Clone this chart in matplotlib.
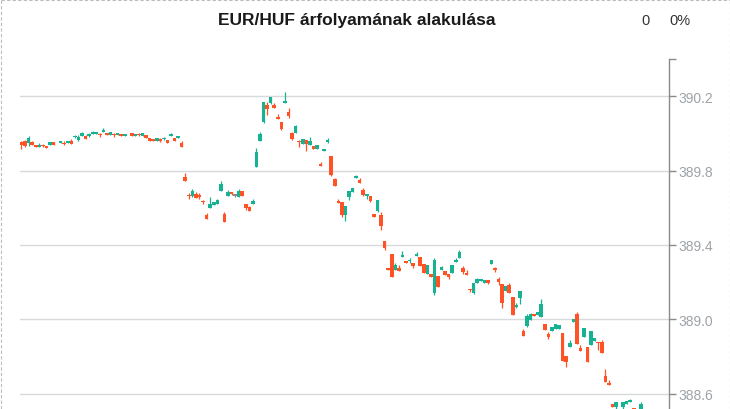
import numpy as np
import matplotlib
matplotlib.use('Agg')
import matplotlib.pyplot as plt
from matplotlib.lines import Line2D

title = "EUR/HUF árfolyamának alakulása"
change_abs = "0"
change_pct = "0%"

slots = [0, 1, 2, 3, 4, 5, 6, 7, 8, 9, 11, 12, 13, 14, 15, 16, 17, 18, 19, 20,
         21, 22, 23, 24, 25, 26, 27, 28, 29, 31, 32, 33, 34, 35, 36, 37, 38, 39, 40, 41,
         42, 43, 44, 45, 46, 47, 48, 49, 50, 51, 52, 53, 54, 55, 56, 57, 58, 59, 60, 61,
         62, 63, 64, 65, 66, 67, 68, 69, 70, 71, 72, 73, 74, 75, 76, 77, 78, 79, 80, 81,
         82, 83, 84, 85, 86, 87, 88, 89, 90, 91, 92, 93, 94, 95, 96, 97, 98, 99, 100, 101,
         102, 103, 104, 105, 106, 107, 108, 109, 110, 111, 112, 113, 114, 115, 116, 117, 118, 119, 120, 121,
         122, 123, 124, 125, 126, 127, 128, 129, 130, 131, 132, 133, 134, 135, 136, 137, 138, 139, 140, 141,
         142, 143, 144, 145, 146, 147, 148, 149, 150, 151, 152, 153, 154, 155, 156, 157, 158, 159, 160, 161,
         162, 163, 164, 165, 166, 167, 169, 170, 171, 172, 174]

opens = [389.953, 389.958, 389.948, 389.953, 389.937, 389.926, 389.937, 389.931, 389.937, 389.953,
         389.948, 389.948, 389.948, 389.958, 389.980, 389.964, 389.985, 389.985, 389.985, 389.996,
         389.996, 389.996, 390.007, 390.001, 389.991, 389.996, 389.991, 389.996, 389.985, 390.001,
         389.985, 389.996, 389.985, 389.991, 389.974, 389.969, 389.958, 389.969, 389.969, 389.964,
         389.985, 389.974, 389.974, 389.948, 389.765, 389.668, 389.663, 389.674, 389.668, 389.636,
         389.561, 389.599, 389.615, 389.620, 389.690, 389.566, 389.663, 389.685, 389.668, 389.658,
         389.690, 389.620, 389.604, 389.620, 389.819, 389.958, 390.060, 390.152, 390.163, 390.152,
         390.087, 390.060, 390.163, 390.114, 390.001, 390.001, 389.958, 389.942, 389.964, 389.937,
         389.931, 389.915, 389.835, 389.905, 389.953, 389.878, 389.754, 389.636, 389.631, 389.561,
         389.658, 389.685, 389.760, 389.749, 389.695, 389.663, 389.663, 389.566, 389.583, 389.561,
         389.421, 389.277, 389.352, 389.266, 389.277, 389.336, 389.314, 389.314, 389.303, 389.341,
         389.336, 389.298, 389.244, 389.244, 389.142, 389.234, 389.266, 389.261, 389.244, 389.250,
         389.309, 389.330, 389.277, 389.250, 389.164, 389.142, 389.196, 389.207, 389.196, 389.212,
         389.298, 389.277, 389.217, 389.191, 389.153, 389.185, 389.121, 389.067, 389.115, 388.938,
         388.965, 388.997, 389.030, 389.024, 389.013, 388.976, 388.922, 388.938, 388.949, 388.949,
         388.927, 388.804, 388.852, 388.987, 389.030, 388.847, 388.906, 388.852, 388.863, 388.884,
         388.879, 388.879, 388.697, 388.659, 388.546, 388.530, 388.530, 388.546, 388.557, 388.525,
         388.509]

highs = [389.958, 389.964, 389.985, 389.958, 389.937, 389.948, 389.942, 389.931, 389.953, 389.953,
         389.958, 389.958, 389.958, 389.969, 389.991, 389.991, 390.007, 389.991, 390.001, 390.012,
         390.007, 390.001, 390.028, 390.001, 390.007, 390.001, 390.001, 389.996, 389.996, 390.001,
         389.996, 390.001, 390.001, 389.991, 389.974, 389.969, 389.974, 389.974, 389.980, 389.964,
         390.001, 389.974, 389.985, 389.958, 389.787, 389.679, 389.701, 389.685, 389.679, 389.642,
         389.572, 389.658, 389.631, 389.647, 389.744, 389.577, 389.695, 389.685, 389.674, 389.701,
         389.690, 389.620, 389.609, 389.647, 389.921, 390.007, 390.168, 390.168, 390.195, 390.163,
         390.103, 390.060, 390.222, 390.136, 390.007, 390.044, 389.964, 389.969, 389.964, 389.980,
         389.931, 389.937, 389.846, 389.915, 389.974, 389.878, 389.760, 389.647, 389.631, 389.609,
         389.690, 389.706, 389.776, 389.760, 389.706, 389.674, 389.663, 389.566, 389.642, 389.577,
         389.421, 389.277, 389.352, 389.303, 389.293, 389.368, 389.314, 389.330, 389.303, 389.362,
         389.336, 389.298, 389.293, 389.244, 389.330, 389.234, 389.287, 389.261, 389.244, 389.293,
         389.330, 389.373, 389.287, 389.266, 389.164, 389.196, 389.223, 389.217, 389.212, 389.212,
         389.320, 389.282, 389.228, 389.191, 389.180, 389.196, 389.121, 389.089, 389.153, 388.949,
         389.030, 389.035, 389.030, 389.040, 389.110, 388.976, 388.933, 388.960, 388.976, 388.970,
         388.927, 388.804, 388.890, 389.003, 389.040, 388.863, 388.954, 388.852, 388.938, 388.901,
         388.879, 388.890, 388.734, 388.675, 388.546, 388.557, 388.557, 388.562, 388.573, 388.525,
         388.557]

lows = [389.915, 389.926, 389.931, 389.937, 389.926, 389.926, 389.926, 389.921, 389.937, 389.937,
        389.948, 389.937, 389.948, 389.942, 389.974, 389.958, 389.985, 389.969, 389.980, 389.996,
        389.996, 389.980, 390.007, 389.991, 389.991, 389.980, 389.991, 389.985, 389.985, 389.985,
        389.985, 389.985, 389.985, 389.974, 389.958, 389.958, 389.958, 389.953, 389.964, 389.948,
        389.985, 389.958, 389.974, 389.926, 389.744, 389.647, 389.658, 389.652, 389.647, 389.620,
        389.540, 389.599, 389.615, 389.620, 389.690, 389.524, 389.663, 389.668, 389.658, 389.658,
        389.663, 389.588, 389.583, 389.620, 389.819, 389.958, 390.055, 390.098, 390.157, 390.136,
        390.077, 390.017, 390.163, 390.082, 389.964, 390.001, 389.926, 389.942, 389.905, 389.937,
        389.915, 389.915, 389.824, 389.905, 389.948, 389.770, 389.717, 389.626, 389.550, 389.529,
        389.642, 389.685, 389.760, 389.733, 389.663, 389.647, 389.631, 389.550, 389.577, 389.481,
        389.373, 389.266, 389.228, 389.266, 389.261, 389.336, 389.303, 389.303, 389.277, 389.341,
        389.287, 389.250, 389.244, 389.228, 389.131, 389.174, 389.266, 389.239, 389.217, 389.250,
        389.309, 389.330, 389.244, 389.239, 389.148, 389.137, 389.196, 389.207, 389.196, 389.191,
        389.298, 389.255, 389.185, 389.062, 389.153, 389.142, 389.024, 389.062, 389.083, 388.911,
        388.960, 388.997, 389.019, 389.024, 389.013, 388.944, 388.895, 388.938, 388.949, 388.949,
        388.777, 388.745, 388.852, 388.987, 388.868, 388.831, 388.906, 388.772, 388.863, 388.884,
        388.836, 388.820, 388.665, 388.648, 388.530, 388.500, 388.500, 388.546, 388.557, 388.500,
        388.490]

closes = [389.937, 389.931, 389.974, 389.937, 389.926, 389.937, 389.931, 389.921, 389.953, 389.937,
          389.958, 389.942, 389.958, 389.942, 389.985, 389.980, 390.001, 389.969, 389.996, 390.007,
          390.007, 389.991, 390.017, 389.991, 390.007, 389.991, 390.001, 389.985, 389.996, 389.985,
          389.996, 389.991, 390.001, 389.974, 389.958, 389.958, 389.974, 389.958, 389.974, 389.948,
          389.996, 389.958, 389.985, 389.926, 389.744, 389.663, 389.690, 389.652, 389.658, 389.631,
          389.540, 389.620, 389.631, 389.642, 389.728, 389.524, 389.685, 389.674, 389.668, 389.690,
          389.663, 389.599, 389.583, 389.636, 389.899, 389.996, 390.168, 390.130, 390.195, 390.136,
          390.077, 390.023, 390.173, 390.093, 389.969, 390.039, 389.953, 389.969, 389.942, 389.958,
          389.915, 389.937, 389.824, 389.915, 389.964, 389.776, 389.717, 389.626, 389.561, 389.609,
          389.690, 389.706, 389.770, 389.733, 389.668, 389.674, 389.636, 389.550, 389.642, 389.502,
          389.384, 389.266, 389.228, 389.293, 389.261, 389.346, 389.303, 389.320, 389.287, 389.352,
          389.287, 389.250, 389.293, 389.228, 389.320, 389.174, 389.282, 389.239, 389.228, 389.293,
          389.320, 389.362, 389.255, 389.239, 389.158, 389.196, 389.217, 389.217, 389.212, 389.196,
          389.320, 389.266, 389.201, 389.089, 389.180, 389.142, 389.024, 389.078, 389.153, 388.911,
          389.019, 389.030, 389.019, 389.040, 389.083, 388.944, 388.906, 388.960, 388.976, 388.970,
          388.777, 388.772, 388.874, 389.003, 388.868, 388.831, 388.954, 388.772, 388.938, 388.901,
          388.874, 388.820, 388.665, 388.648, 388.530, 388.557, 388.557, 388.562, 388.568, 388.514,
          388.546]

y_ticks = [388.6, 389.0, 389.4, 389.8, 390.2]
y_tick_labels = ["388.6", "389.0", "389.4", "389.8", "390.2"]

UP = '#17b292'
DOWN = '#ff5226'
FLAT = '#888888'

plt.rcParams['font.family'] = ['Liberation Sans', 'DejaVu Sans']

fig = plt.figure(figsize=(7.3, 4.1), dpi=100)
fig.patch.set_facecolor('white')
ax = fig.add_axes([20 / 730, 0, 649 / 730, 350 / 410])
ax.set_facecolor('white')

x = np.array(slots, dtype=float)
o = np.array(opens)
h = np.array(highs)
l = np.array(lows)
c = np.array(closes)

colors = np.where(c > o, UP, np.where(c < o, DOWN, FLAT))
bottoms = np.minimum(o, c)
heights = np.maximum(np.abs(c - o), 0.0055)
flat = c == o
heights[flat] = 0.012
bottoms[flat] = o[flat] - 0.006

ax.vlines(x, l, h, colors=colors, linewidth=0.9, zorder=2)
ax.bar(x, heights, bottom=bottoms, width=1.0, color=colors, linewidth=0, zorder=3)

ax.set_xlim(-0.42, 181.88)
ax.set_ylim(388.519, 390.399)

ax.set_yticks(y_ticks)
ax.set_yticklabels(y_tick_labels)
ax.set_yticks([390.399], minor=True)
ax.yaxis.tick_right()
ax.tick_params(axis='y', which='both', direction='out', length=5, width=1,
               color='#8a8a8a', labelcolor='#9ea3a8', labelsize=10, pad=2)
ax.set_xticks([])
ax.yaxis.grid(True, which='major', color='#d7dadd', linewidth=1)
ax.set_axisbelow(True)
for side in ('left', 'top', 'bottom'):
    ax.spines[side].set_visible(False)
ax.spines['right'].set_color('#8a8a8a')
ax.spines['right'].set_linewidth(1)

fig.text(357 / 730, 1 - 20 / 410, title, ha='center', va='center',
         fontsize=12.5, fontweight='bold', color='#1a1a1a')
fig.text(645 / 730, 1 - 21 / 410, change_abs, ha='center', va='center',
         fontsize=10.5, color='#333333')
fig.text(680 / 730, 1 - 21 / 410, change_pct, ha='center', va='center',
         fontsize=10.5, color='#333333')

border = dict(color='#bdbdbd', linewidth=0.8, linestyle=(0, (3, 2)), transform=fig.transFigure)
fig.add_artist(Line2D([0.5 / 730, 0.5 / 730], [0, 1 - 0.5 / 410], **border))
fig.add_artist(Line2D([729.5 / 730, 729.5 / 730], [0, 1 - 0.5 / 410], **border))
fig.add_artist(Line2D([0.5 / 730, 729.5 / 730], [1 - 0.5 / 410, 1 - 0.5 / 410], **border))

fig.savefig('out.png', dpi=100)
